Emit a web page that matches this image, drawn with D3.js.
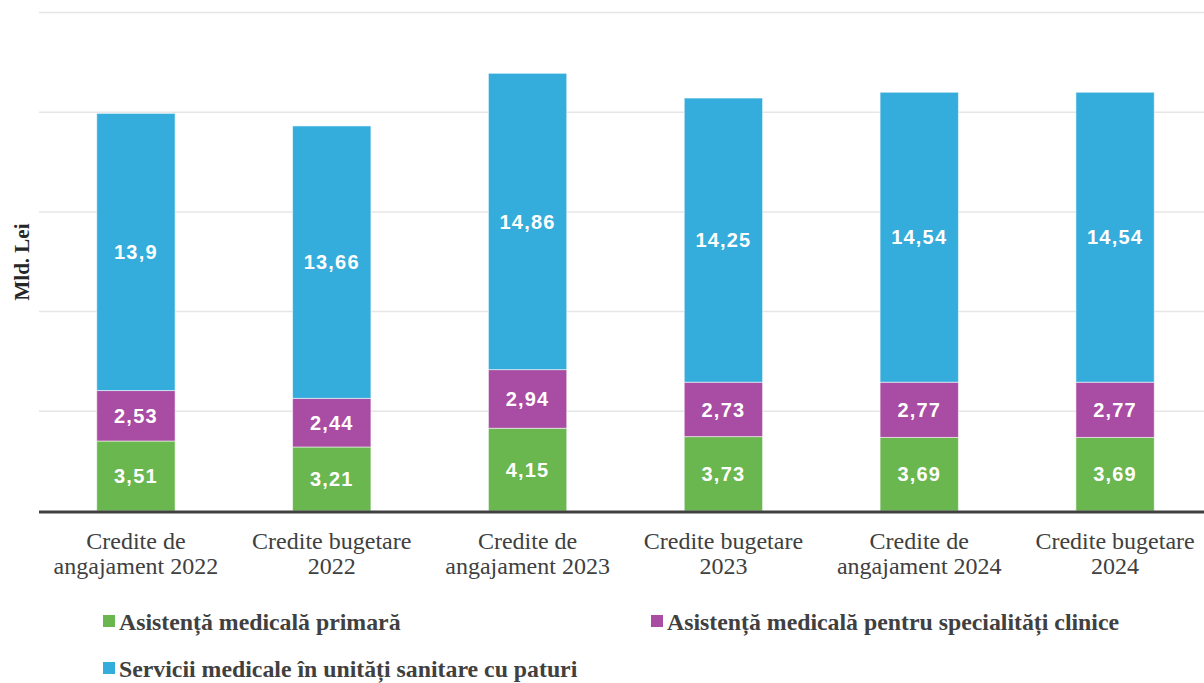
<!DOCTYPE html>
<html>
<head>
<meta charset="utf-8">
<script src="https://cdn.jsdelivr.net/npm/d3@7"></script>
<style>
  body { margin: 0; background: #fff; }
  svg { display: block; }
</style>
</head>
<body>
<div id="chart"></div>
<script>
// categories and series
const categories = [
    ['Credite de', 'angajament 2022'],
    ['Credite bugetare', '2022'],
    ['Credite de', 'angajament 2023'],
    ['Credite bugetare', '2023'],
    ['Credite de', 'angajament 2024'],
    ['Credite bugetare', '2024']
];
const primara = [3.51, 3.21, 4.15, 3.73, 3.69, 3.69];
const specialitati = [2.53, 2.44, 2.94, 2.73, 2.77, 2.77];
const paturi = [13.9, 13.66, 14.86, 14.25, 14.54, 14.54];
const seriesNames = [
    'Asistență medicală primară',
    'Asistență medicală pentru specialități clinice',
    'Servicii medicale în unități sanitare cu paturi'
];
const colors = ['#6ab64f', '#a94ca3', '#34acdc'];
const yTicks = [0, 5, 10, 15, 20, 25];

const width = 1204, height = 683;
const svg = d3.select('#chart').append('svg')
    .attr('width', width)
    .attr('height', height);

const x = d3.scaleBand()
    .domain(d3.range(categories.length))
    .range([38, 1213])
    .paddingInner(0.6)
    .paddingOuter(0.3);

const y = d3.scaleLinear().domain([0, 25]).range([511, 12.5]);

// gridlines
svg.append('g')
    .selectAll('line')
    .data(yTicks.slice(1))
    .join('line')
    .attr('x1', 39).attr('x2', width)
    .attr('y1', d => y(d)).attr('y2', d => y(d))
    .attr('stroke', '#e6e6e6')
    .attr('stroke-width', 1.5);

// stack the series
const rows = categories.map((c, i) => ({ i, a: primara[i], b: specialitati[i], c: paturi[i] }));
const stack = d3.stack().keys(['a', 'b', 'c'])(rows);

const layers = svg.append('g').selectAll('g')
    .data(stack)
    .join('g')
    .attr('fill', (d, k) => colors[k]);

layers.selectAll('rect')
    .data(d => d)
    .join('rect')
    .attr('x', d => x(d.data.i))
    .attr('width', x.bandwidth())
    .attr('y', d => y(d[1]))
    .attr('height', d => y(d[0]) - y(d[1]))
    .attr('stroke', 'rgba(255,255,255,0.55)')
    .attr('stroke-width', 1);

// value labels
layers.selectAll('text')
    .data(d => d.map(p => ({ p, key: d.key })))
    .join('text')
    .attr('x', d => x(d.p.data.i) + x.bandwidth() / 2)
    .attr('y', d => (y(d.p[0]) + y(d.p[1])) / 2)
    .attr('dy', '0.36em')
    .attr('text-anchor', 'middle')
    .attr('fill', '#fff')
    .style('font-family', '"Liberation Sans", Arial, sans-serif')
    .style('font-weight', 'bold')
    .style('font-size', '20px')
    .style('letter-spacing', '1.2px')
    .text(d => String(d.p.data[d.key]).replace('.', ','));

// baseline
svg.append('line')
    .attr('x1', 39).attr('x2', width)
    .attr('y1', y(0) + 1).attr('y2', y(0) + 1)
    .attr('stroke', '#404040')
    .attr('stroke-width', 3);

// x labels
const xl = svg.append('g').selectAll('text')
    .data(categories)
    .join('text')
    .attr('x', (d, i) => x(i) + x.bandwidth() / 2)
    .attr('y', 549)
    .attr('text-anchor', 'middle')
    .attr('fill', '#404040')
    .style('font-family', '"Liberation Serif", "Times New Roman", serif')
    .style('font-size', '24px');
xl.selectAll('tspan')
    .data(d => d)
    .join('tspan')
    .attr('x', function () { return this.parentNode.getAttribute('x'); })
    .attr('dy', (d, j) => j === 0 ? 0 : 25)
    .text(d => d);

// y axis title
svg.append('text')
    .attr('transform', 'translate(29,262) rotate(-90)')
    .attr('text-anchor', 'middle')
    .attr('fill', '#262626')
    .style('font-family', '"Liberation Serif", "Times New Roman", serif')
    .style('font-weight', 'bold')
    .style('font-size', '21px')
    .text('Mld. Lei');

// legend
const legendPos = [[103, 621], [651, 621], [103, 668]];
const lg = svg.append('g').selectAll('g')
    .data(seriesNames)
    .join('g')
    .attr('transform', (d, i) => `translate(${legendPos[i][0]},${legendPos[i][1]})`);
lg.append('rect')
    .attr('x', 0).attr('y', -6)
    .attr('width', 12).attr('height', 12)
    .attr('fill', (d, i) => colors[i]);
lg.append('text')
    .attr('x', 16)
    .attr('y', 9)
    .attr('fill', '#404040')
    .style('font-family', '"Liberation Serif", "Times New Roman", serif')
    .style('font-weight', 'bold')
    .style('font-size', '23.8px')
    .text(d => d);
</script>
</body>
</html>
